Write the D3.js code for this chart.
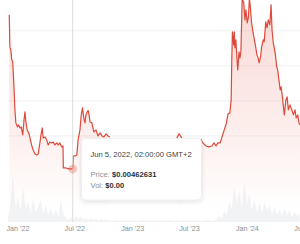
<!DOCTYPE html>
<html>
<head>
<meta charset="utf-8">
<script src="https://cdn.jsdelivr.net/npm/d3@7"></script>
<style>
  body { margin: 0; background: #fff; }
  svg { display: block; font-family: "Liberation Sans", Arial, sans-serif; }
</style>
</head>
<body>
<div id="chart"></div>
<script>
// price series, null = no data (gap in the line)
const priceDates = [
  "2021-12-06","2021-12-08","2021-12-11","2021-12-14","2021-12-17","2021-12-21","2021-12-24","2021-12-27",
  "2022-01-01","2022-01-05","2022-01-09","2022-01-13","2022-01-18","2022-01-22","2022-01-25","2022-01-28",
  "2022-02-01","2022-02-06","2022-02-10","2022-02-15","2022-02-20","2022-02-26","2022-03-03","2022-03-08",
  "2022-03-14","2022-03-17","2022-03-21","2022-03-24","2022-03-30","2022-04-04","2022-04-09","2022-04-14",
  "2022-04-20","2022-04-25","2022-04-30","2022-05-06","2022-05-11","2022-05-16","2022-05-22","2022-05-26",
  "2022-05-27","2022-06-04","2022-06-14","2022-06-26","2022-06-28","2022-07-03","2022-07-09","2022-07-13",
  "2022-07-19","2022-07-23","2022-07-27","2022-08-01","2022-08-04","2022-08-07","2022-08-12","2022-08-15",
  "2022-08-20","2022-08-26","2022-09-01","2022-09-08","2022-09-11","2022-09-14","2022-09-21","2022-09-27",
  "2022-10-03","2022-10-10","2022-10-16","2022-10-22","2022-10-23",
  "2023-05-23","2023-05-30","2023-06-08","2023-06-09",
  "2023-08-07","2023-08-14","2023-08-24","2023-09-02","2023-09-12","2023-09-18","2023-09-25","2023-10-01",
  "2023-10-08","2023-10-14","2023-10-21","2023-10-27","2023-11-02","2023-11-08","2023-11-12","2023-11-14",
  "2023-11-16","2023-11-20","2023-11-22","2023-11-24","2023-11-27","2023-11-30","2023-12-03","2023-12-07",
  "2023-12-10","2023-12-13","2023-12-17","2023-12-22","2023-12-26","2023-12-29","2024-01-02","2024-01-06",
  "2024-01-09","2024-01-12","2024-01-16","2024-01-21","2024-01-25","2024-01-29","2024-02-02","2024-02-06",
  "2024-02-09","2024-02-13","2024-02-17","2024-02-22","2024-02-25","2024-03-01","2024-03-05","2024-03-09",
  "2024-03-14","2024-03-18","2024-03-21","2024-03-25","2024-03-31","2024-04-05","2024-04-08","2024-04-12",
  "2024-04-16","2024-04-19","2024-04-23","2024-04-29","2024-05-04","2024-05-08","2024-05-12","2024-05-17",
  "2024-05-23","2024-05-28","2024-06-02","2024-06-06","2024-06-11","2024-06-15","2024-06-18"
];
const prices = [
  0.02729,0.02271,0.02229,0.02086,0.02057,0.0170,0.01371,0.01186,
  0.01129,0.01157,0.01114,0.01129,0.01014,0.01229,0.01343,0.0120,
  0.01086,0.01043,0.00971,0.00871,0.0080,0.00743,0.00729,0.00743,
  0.00914,0.01014,0.01114,0.00971,0.00986,0.00943,0.00871,0.00914,
  0.0090,0.00914,0.00871,0.0090,0.00871,0.0090,0.00843,0.00857,
  0.00543,0.00543,0.00529,0.00529,0.00714,0.00714,0.00729,0.00943,
  0.01086,0.0130,0.0140,0.01229,0.01186,0.0130,0.01357,0.01357,
  0.0120,0.01186,0.01057,0.01086,0.01043,0.0100,0.01043,0.0100,
  0.00986,0.01029,0.0100,0.00986,null,
  0.00971,0.01029,0.00971,null,
  0.00957,0.0090,0.00857,0.00843,0.00857,0.0090,0.00857,0.0090,
  0.0090,0.00986,0.01086,0.01171,0.01314,0.01329,0.01514,0.02086,
  0.02486,0.0230,0.02486,0.02257,0.02371,0.02129,0.01943,0.0220,
  0.02114,0.0220,0.0296,0.0290,0.02657,0.0280,0.02614,0.0270,
  0.0296,0.02843,0.02614,0.02471,0.02371,0.0227,0.02157,0.02114,
  0.02043,0.02114,0.0227,0.02371,0.02343,0.02629,0.02543,0.02657,
  0.02586,0.02871,0.02514,0.02329,0.02186,0.01986,0.01943,0.0180,
  0.01657,0.0170,0.01557,0.0130,0.01514,0.01557,0.01371,0.01443,
  0.01371,0.0130,0.01371,0.01257,0.0130,0.01186,0.01157
];

// volume, one value every 8 days from volumeStart
const volumeStart = "2021-12-02";
const volumes = [
  6,40,94,30,50,22,70,26,40,18,46,20,30,44,16,34,14,28,12,24,10,44,18,
  8,4,10,4,12,6,10,5,8,4,9,4,6,3,7,3,5,4,3,
  2,4,2,3,2,3,4,2,3,2,2,4,3,2,3,2,4,2,3,2,
  3,2,4,3,2,3,2,2,4,3,2,3,4,2,3,2,3,4,3,2,3,
  6,12,8,22,14,40,26,70,36,60,30,80,34,56,24,44,20,38,18,40,22,34,16,30,14,26,12,28,14,22,10,20,12,18
];

const tickDates = ["2022-01-01","2022-07-01","2023-01-01","2023-07-01","2024-01-01","2024-07-01"];
const gridValues = [0.01, 0.015, 0.02, 0.025];

const hoverDate = "2022-06-26";
const tooltipTitle = "Jun 5, 2022, 02:00:00 GMT+2";
const tooltipPrice = "$0.00462631";
const tooltipVol = "$0.00";

let width = 300, height = 244;
const parse = d3.timeParse("%Y-%m-%d");

const priceData = priceDates.map((d, i) => ({date: parse(d), value: prices[i]}));
const volumeData = volumes.map((v, i) => ({date: d3.timeDay.offset(parse(volumeStart), i * 8), value: v}));

const x = d3.scaleTime()
    .domain([parse("2021-12-02"), parse("2024-06-18")])
    .range([8, 300]);
const y = d3.scaleLinear().domain([0, 0.0294]).range([206, 0]);
const yVol = d3.scaleLinear().domain([0, 100]).range([222, 172]);

const svg = d3.select("#chart")
    .append("svg")
    .attr("width", width)
    .attr("height", height);

const defs = svg.append("defs");
const grad = defs.append("linearGradient")
    .attr("id", "areaFill")
    .attr("gradientUnits", "userSpaceOnUse")
    .attr("x1", 0).attr("x2", 0).attr("y1", 0).attr("y2", 210);
grad.append("stop").attr("offset", "0%").attr("stop-color", "#e3513f").attr("stop-opacity", 0.22);
grad.append("stop").attr("offset", "60%").attr("stop-color", "#e3513f").attr("stop-opacity", 0.1);
grad.append("stop").attr("offset", "100%").attr("stop-color", "#e3513f").attr("stop-opacity", 0);

const shadow = defs.append("filter").attr("id", "shadow")
    .attr("x", "-20%").attr("y", "-20%").attr("width", "140%").attr("height", "150%");
shadow.append("feDropShadow")
    .attr("dx", 0).attr("dy", 1.5).attr("stdDeviation", 2)
    .attr("flood-color", "#000").attr("flood-opacity", 0.12);

// horizontal grid
svg.append("g")
    .selectAll("line")
    .data(gridValues)
    .join("line")
    .attr("x1", 8).attr("x2", width)
    .attr("y1", d => y(d)).attr("y2", d => y(d))
    .attr("stroke", "#f1f1f1")
    .attr("stroke-width", 1);

// volume area
svg.append("path")
    .datum(volumeData)
    .attr("fill", "#eceef1")
    .attr("opacity", 0.7)
    .attr("d", d3.area()
        .x(d => x(d.date))
        .y0(yVol(0))
        .y1(d => yVol(d.value)));

// price area + line
const defined = d => d.value !== null;
svg.append("path")
    .datum(priceData)
    .attr("fill", "url(#areaFill)")
    .attr("d", d3.area()
        .defined(defined)
        .x(d => x(d.date))
        .y0(210)
        .y1(d => y(d.value)));

svg.append("path")
    .datum(priceData)
    .attr("fill", "none")
    .attr("stroke", "#dd4a3b")
    .attr("stroke-width", 1.2)
    .attr("stroke-linejoin", "round")
    .attr("d", d3.line()
        .defined(defined)
        .x(d => x(d.date))
        .y(d => y(d.value)));

// crosshair and hovered point
const hover = priceData.find(d => +d.date === +parse(hoverDate));
svg.append("line")
    .attr("x1", x(hover.date)).attr("x2", x(hover.date))
    .attr("y1", 0).attr("y2", yVol(0))
    .attr("stroke", "#dcdcdc")
    .attr("stroke-width", 1);
svg.append("circle")
    .attr("cx", x(hover.date))
    .attr("cy", y(hover.value))
    .attr("r", 4.5)
    .attr("fill", "#e3513f")
    .attr("fill-opacity", 0.3);

// x axis labels
const xAxis = svg.append("g")
    .attr("transform", "translate(0," + 226 + ")")
    .call(d3.axisBottom(x)
        .tickValues(tickDates.map(parse))
        .tickFormat(d3.timeFormat("%b '%y"))
        .tickSize(0)
        .tickPadding(0));
xAxis.select(".domain").remove();
xAxis.selectAll("text")
    .attr("dy", "0.71em")
    .attr("fill", "#8c9098")
    .attr("font-size", 7.2)
    .attr("font-family", "'Liberation Sans', Arial, sans-serif");

// tooltip
const tip = svg.append("g").attr("transform", "translate(81.5,138.5)");
tip.append("rect")
    .attr("width", 120).attr("height", 61.5)
    .attr("rx", 4)
    .attr("fill", "#fff")
    .attr("stroke", "#e8e8e8")
    .attr("stroke-width", 0.6)
    .attr("filter", "url(#shadow)");
tip.append("text")
    .attr("x", 9).attr("y", 18.5)
    .attr("font-size", 7.6)
    .attr("fill", "#3a3f47")
    .text(tooltipTitle);
const priceLine = tip.append("text")
    .attr("x", 9).attr("y", 38)
    .attr("font-size", 7.6);
priceLine.append("tspan").attr("fill", "#8c9098").text("Price: ");
priceLine.append("tspan").attr("fill", "#2b2f36").attr("font-weight", "bold").text(tooltipPrice);
const volLine = tip.append("text")
    .attr("x", 9).attr("y", 49.5)
    .attr("font-size", 7.6);
volLine.append("tspan").attr("fill", "#8c9098").text("Vol: ");
volLine.append("tspan").attr("fill", "#2b2f36").attr("font-weight", "bold").text(tooltipVol);
</script>
</body>
</html>
